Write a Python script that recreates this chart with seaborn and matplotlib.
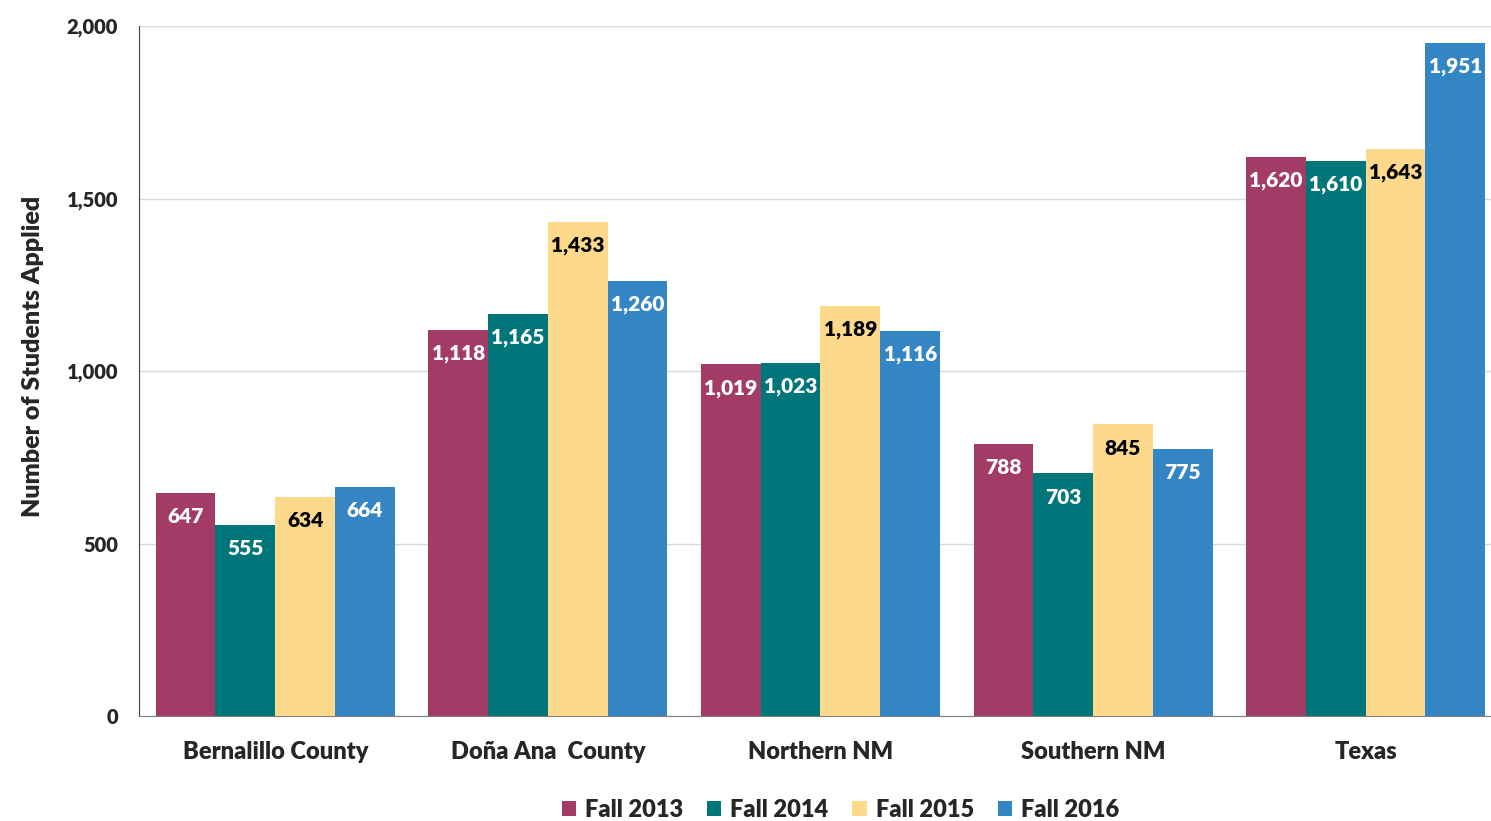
import pandas as pd
import matplotlib.pyplot as plt
import seaborn as sns
from matplotlib.ticker import FuncFormatter

regions = ["Bernalillo County", "Doña Ana  County", "Northern NM", "Southern NM", "Texas"]
terms = ["Fall 2013", "Fall 2014", "Fall 2015", "Fall 2016"]
fall_2013 = [647, 1118, 1019, 788, 1620]
fall_2014 = [555, 1165, 1023, 703, 1610]
fall_2015 = [634, 1433, 1189, 845, 1643]
fall_2016 = [664, 1260, 1116, 775, 1951]
colors = ["#A23B65", "#00767A", "#FDD98B", "#3385C4"]
label_colors = ["white", "white", "black", "white"]

rows = []
for term, vals in zip(terms, [fall_2013, fall_2014, fall_2015, fall_2016]):
    for reg, v in zip(regions, vals):
        rows.append({"Region": reg, "Term": term, "Applied": v})
df = pd.DataFrame(rows)

sns.set_style("white")
plt.rcParams["font.family"] = ["Lato", "DejaVu Sans"]
W = 800  # Lato Heavy, closest to the Calibri bold look

fig = plt.figure(figsize=(14.91, 8.21), dpi=100)
# axes runs a little past the right edge, like the original export
ax = fig.add_axes([0.0932, 0.1279, 0.9142, 0.8404])

sns.barplot(data=df, x="Region", y="Applied", hue="Term", order=regions, hue_order=terms,
            palette=colors, width=0.877, saturation=1, ax=ax, linewidth=0)

for cont, lc in zip(ax.containers, label_colors):
    for bar in cont:
        h = bar.get_height()
        ax.annotate(f"{h:,.0f}", (bar.get_x() + bar.get_width() / 2, h),
                    xytext=(0, -17), textcoords="offset points",
                    ha="center", va="center", color=lc, fontsize=15, fontweight=W)

ax.set_xlim(-0.5, 4.5)
ax.set_ylim(0, 2000)
ax.set_yticks([0, 500, 1000, 1500, 2000])
ax.yaxis.set_major_formatter(FuncFormatter(lambda v, p: f"{v:,.0f}"))
ax.grid(axis="y", color="#D9D9D9", linewidth=1)
ax.set_axisbelow(True)
ax.tick_params(axis="both", length=0, labelsize=14.5)
ax.tick_params(axis="x", pad=18, labelsize=17)
ax.tick_params(axis="y", pad=15)
for lab in ax.get_xticklabels() + ax.get_yticklabels():
    lab.set_fontweight(W)

for s in ["top", "right"]:
    ax.spines[s].set_visible(False)
ax.spines["left"].set_color("#404040")
ax.spines["bottom"].set_color("#808080")

ax.set_xlabel("")
ax.set_ylabel("Number of Students Applied", fontsize=18, fontweight=W)
ax.yaxis.set_label_coords(-0.07, 0.521)

ax.legend(loc="upper center", bbox_to_anchor=(0.5147, -0.089), ncol=4, frameon=False,
          handlelength=0.6, handleheight=0.6, handletextpad=0.4,
          columnspacing=1.0, prop={"weight": W, "size": 17})

plt.savefig("out.png", dpi=100)
